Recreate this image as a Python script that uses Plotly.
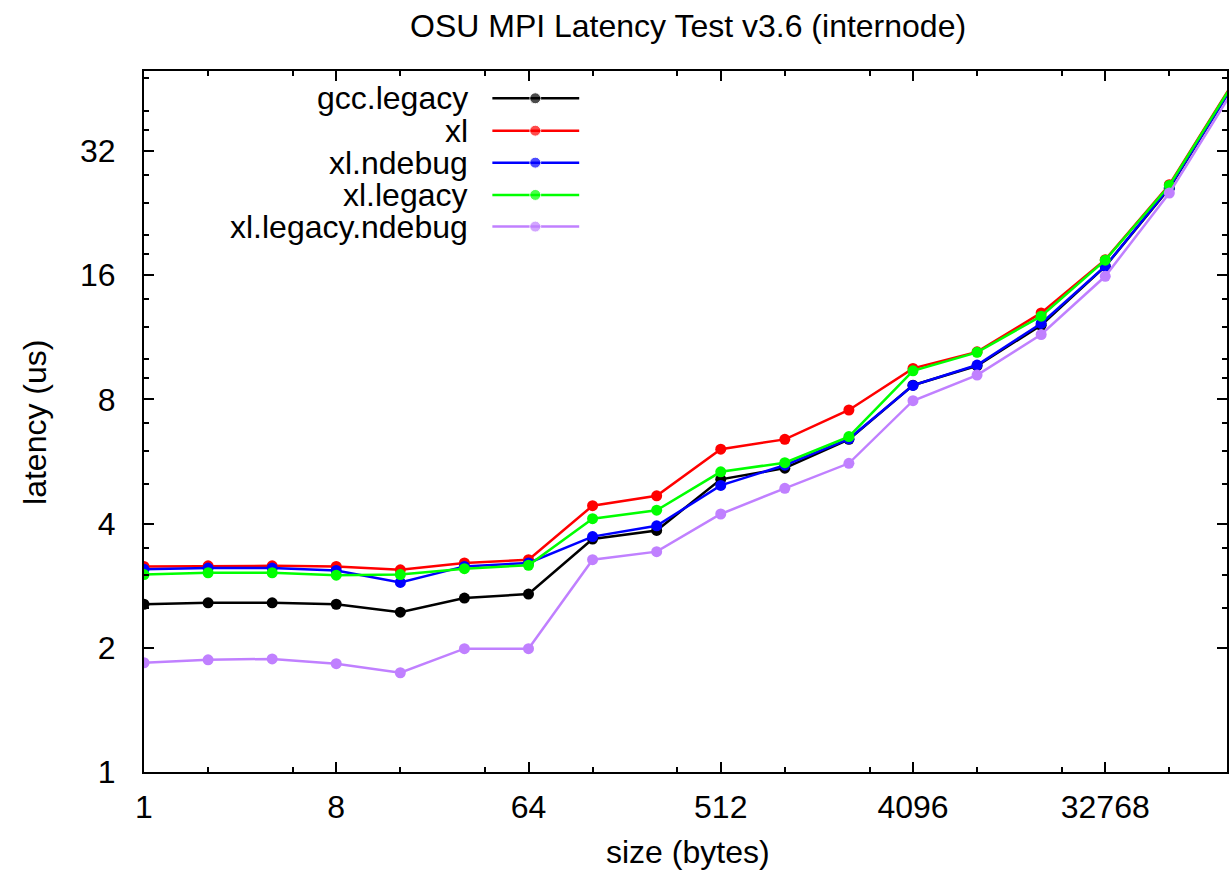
import math
import plotly.graph_objects as go

# ---- data ----
sizes = [1, 2, 4, 8, 16, 32, 64, 128, 256, 512, 1024, 2048, 4096, 8192,
         16384, 32768, 65536, 131072]
series_names = ["gcc.legacy", "xl", "xl.ndebug", "xl.legacy", "xl.legacy.ndebug"]
gcc_legacy = [2.55, 2.57, 2.57, 2.55, 2.44, 2.64, 2.70, 3.67, 3.85, 5.12, 5.45,
              6.40, 8.66, 9.65, 12.1, 16.8, 26.0, 46.3]
xl = [3.15, 3.16, 3.16, 3.15, 3.09, 3.21, 3.27, 4.42, 4.67, 6.06, 6.40,
      7.54, 9.51, 10.43, 12.96, 17.45, 26.5, 47.0]
xl_ndebug = [3.10, 3.12, 3.12, 3.08, 2.88, 3.15, 3.21, 3.72, 3.95, 4.95, 5.54,
             6.42, 8.65, 9.69, 12.22, 16.82, 26.1, 46.2]
xl_legacy = [3.01, 3.04, 3.04, 3.00, 3.01, 3.11, 3.17, 4.11, 4.31, 5.34, 5.62,
             6.50, 9.38, 10.40, 12.73, 17.4, 26.4, 46.8]
xl_legacy_ndebug = [1.84, 1.87, 1.88, 1.83, 1.74, 1.99, 1.99, 3.27, 3.42, 4.22,
                    4.87, 5.60, 7.94, 9.16, 11.49, 15.90, 25.3, 45.0]

x_tickvals = [1, 8, 64, 512, 4096, 32768]
x_ticktext = ["1", "8", "64", "512", "4096", "32768"]
x_minor = [2, 5, 16, 40, 128, 320, 1024, 2560, 8192, 20480, 65536]
y_tickvals = [1, 2, 4, 8, 16, 32]
y_ticktext = ["1", "2", "4", "8", "16", "32"]
y_minor = [2.5, 3, 3.5, 5, 6, 7, 9, 10, 12, 14, 18, 20, 24, 28, 36, 40, 48]

colors = ["#000000", "#ff0000", "#0000ff", "#00ff00", "#c080ff"]
all_series = [gcc_legacy, xl, xl_ndebug, xl_legacy, xl_legacy_ndebug]

# ---- layout geometry (page pixels; body margin removed below) ----
W, H = 1230, 873
L, R, T, B = 144, 1229, 71, 772.5          # plot area in page pixels
FONT = "Liberation Sans, Arial, Helvetica, sans-serif"
FS = 32


def px(xp):
    return (xp - L) / (R - L)


def py(yp):
    return (B - yp) / (B - T)


fig = go.Figure()
for name, vals, col in zip(series_names, all_series, colors):
    fig.add_trace(go.Scatter(
        x=sizes, y=vals, name=name, mode="lines+markers",
        line=dict(color=col, width=2.5),
        marker=dict(color=col, size=11),
        showlegend=False,
    ))

# legend drawn gnuplot-style (text right-aligned, sample on the right)
leg_rows = [98.3, 130.7, 162.7, 195, 226.7]
annotations = []
for name, col, ry in zip(series_names, colors, leg_rows):
    fig.add_trace(go.Scatter(
        x=[px(493), px(536), px(580)], y=[py(ry)] * 3,
        xaxis="x2", yaxis="y2", mode="lines+markers",
        line=dict(color=col, width=2.5),
        marker=dict(color=col, size=[0, 11, 0]),
        showlegend=False, hoverinfo="skip",
    ))
    annotations.append(dict(
        x=px(471), y=py(ry), xref="paper", yref="paper",
        text=name, showarrow=False, xanchor="right", yanchor="middle",
        font=dict(family=FONT, size=FS, color="black"),
    ))

annotations += [
    dict(x=px(689), y=py(26), xref="paper", yref="paper",
         text="OSU MPI Latency Test v3.6 (internode)", showarrow=False,
         xanchor="center", yanchor="middle",
         font=dict(family=FONT, size=FS, color="black")),
    dict(x=px(689), y=py(853), xref="paper", yref="paper",
         text="size (bytes)", showarrow=False,
         xanchor="center", yanchor="middle",
         font=dict(family=FONT, size=FS, color="black")),
    dict(x=px(35), y=py(423), xref="paper", yref="paper",
         text="latency (us)", showarrow=False, textangle=-90,
         xanchor="center", yanchor="middle",
         font=dict(family=FONT, size=FS, color="black")),
]

axis_common = dict(
    type="log", showgrid=False, zeroline=False,
    showline=True, linecolor="black", linewidth=2, mirror="ticks",
    ticks="inside", ticklen=10, tickwidth=1.5, tickcolor="black",
    tickfont=dict(family=FONT, size=FS, color="black"),
)

fig.update_layout(
    width=W, height=H,
    margin=dict(l=L, r=W - R, t=T, b=H - B, pad=0),
    paper_bgcolor="white", plot_bgcolor="white",
    showlegend=False,
    xaxis=dict(
        range=[0, math.log10(2 ** 16.9)],
        tickmode="array", tickvals=x_tickvals, ticktext=x_ticktext,
        ticklabelstandoff=6,
        minor=dict(tickmode="array", tickvals=x_minor, ticks="inside",
                   ticklen=5, tickwidth=1.5, tickcolor="black", showgrid=False),
        **axis_common,
    ),
    yaxis=dict(
        range=[0, math.log10(50)],
        tickmode="array", tickvals=y_tickvals, ticktext=y_ticktext,
        ticklabelstandoff=20,
        minor=dict(tickmode="array", tickvals=y_minor, ticks="inside",
                   ticklen=5, tickwidth=1.5, tickcolor="black", showgrid=False),
        **axis_common,
    ),
    xaxis2=dict(overlaying="x", range=[0, 1], visible=False, fixedrange=True),
    yaxis2=dict(overlaying="y", range=[0, 1], visible=False, fixedrange=True),
    annotations=annotations,
)

fig.write_html(
    "out.html",
    config={"displayModeBar": False},
    post_script="document.body.style.margin='0';"
                "document.documentElement.style.overflow='hidden';",
)
